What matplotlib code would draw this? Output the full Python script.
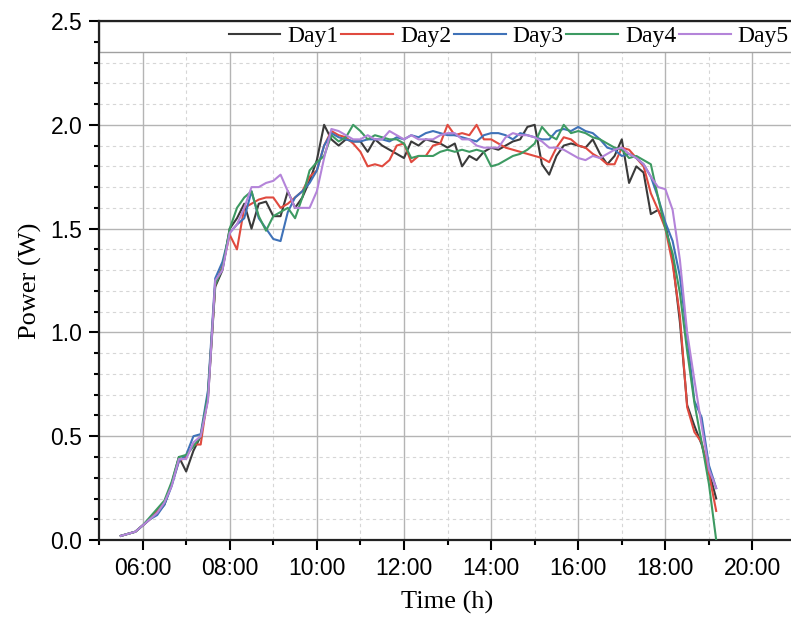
import numpy as np
import matplotlib.pyplot as plt
from matplotlib.ticker import MultipleLocator, FuncFormatter
from matplotlib.patches import Rectangle

# sampling every 10 min, 05:30 -> 19:10
hours = 5.5 + np.arange(83) / 6.0

day1 = [0.02, 0.03, 0.04, 0.07, 0.10, 0.13, 0.17, 0.27, 0.40, 0.33, 0.43, 0.50, 0.68, 1.22, 1.30,
        1.50, 1.55, 1.62, 1.50, 1.62, 1.63, 1.56, 1.56, 1.68, 1.60, 1.65, 1.73, 1.83, 2.00,
        1.93, 1.90, 1.93, 1.92, 1.92, 1.87, 1.93, 1.90, 1.88, 1.86, 1.84, 1.92, 1.90, 1.93, 1.92,
        1.91, 1.89, 1.91, 1.80, 1.85, 1.83, 1.87,
        1.89, 1.88, 1.90, 1.92, 1.93, 1.99, 2.00, 1.81, 1.76, 1.85, 1.90, 1.91, 1.90, 1.89, 1.93,
        1.86, 1.81, 1.85, 1.93, 1.72, 1.80, 1.77, 1.57, 1.59, 1.52, 1.35, 1.05, 0.65, 0.55, 0.46,
        0.33, 0.20]
day2 = [0.02, 0.03, 0.04, 0.07, 0.10, 0.14, 0.18, 0.27, 0.38, 0.40, 0.46, 0.46, 0.70, 1.23, 1.32,
        1.47, 1.40, 1.60, 1.62, 1.64, 1.65, 1.65, 1.60, 1.62, 1.65, 1.68, 1.75, 1.78, 1.90,
        1.97, 1.95, 1.94, 1.91, 1.87, 1.80, 1.81, 1.80, 1.83, 1.90, 1.91, 1.82, 1.85, 1.85, 1.90,
        1.91, 2.00, 1.95, 1.96, 1.95, 2.00, 1.93,
        1.93, 1.91, 1.89, 1.88, 1.87, 1.86, 1.85, 1.84, 1.82, 1.89, 1.94, 1.93, 1.90, 1.89, 1.86,
        1.84, 1.81, 1.81, 1.89, 1.88, 1.84, 1.80, 1.67, 1.59, 1.50, 1.33, 1.08, 0.64, 0.52, 0.47,
        0.32, 0.14]
day3 = [0.02, 0.03, 0.04, 0.07, 0.10, 0.12, 0.17, 0.26, 0.38, 0.41, 0.50, 0.51, 0.72, 1.26, 1.34,
        1.48, 1.52, 1.55, 1.68, 1.55, 1.50, 1.45, 1.44, 1.58, 1.65, 1.68, 1.72, 1.78, 1.90,
        1.96, 1.94, 1.93, 1.92, 1.92, 1.93, 1.93, 1.93, 1.92, 1.94, 1.93, 1.95, 1.94, 1.96, 1.97,
        1.96, 1.95, 1.95, 1.94, 1.93, 1.92, 1.95,
        1.96, 1.96, 1.95, 1.93, 1.96, 1.95, 1.94, 1.93, 1.93, 1.97, 1.98, 1.97, 1.99, 1.97, 1.96,
        1.93, 1.89, 1.88, 1.85, 1.86, 1.84, 1.81, 1.75, 1.65, 1.53, 1.44, 1.27, 0.98, 0.67, 0.59,
        0.36, 0.25]
day4 = [0.02, 0.03, 0.04, 0.07, 0.11, 0.15, 0.19, 0.28, 0.40, 0.41, 0.45, 0.50, 0.70, 1.23, 1.31,
        1.50, 1.60, 1.65, 1.68, 1.56, 1.49, 1.56, 1.58, 1.60, 1.55, 1.65, 1.78, 1.82, 1.85,
        1.95, 1.92, 1.94, 2.00, 1.97, 1.93, 1.95, 1.94, 1.93, 1.93, 1.91, 1.84, 1.85, 1.85, 1.85,
        1.87, 1.88, 1.87, 1.88, 1.87, 1.88, 1.87,
        1.80, 1.81, 1.83, 1.85, 1.86, 1.88, 1.91, 1.99, 1.95, 1.93, 2.00, 1.96, 1.97, 1.96, 1.94,
        1.93, 1.91, 1.89, 1.88, 1.84, 1.85, 1.83, 1.81, 1.65, 1.50, 1.38, 1.19, 0.91, 0.66, 0.47,
        0.27, 0.00]
day5 = [0.02, 0.03, 0.04, 0.07, 0.10, 0.13, 0.18, 0.26, 0.39, 0.39, 0.47, 0.50, 0.67, 1.25, 1.30,
        1.48, 1.52, 1.60, 1.70, 1.70, 1.72, 1.73, 1.76, 1.68, 1.60, 1.60, 1.60, 1.68, 1.84,
        1.98, 1.97, 1.95, 1.93, 1.93, 1.95, 1.93, 1.93, 1.97, 1.95, 1.93, 1.95, 1.93, 1.93, 1.93,
        1.95, 1.96, 1.96, 1.93, 1.93, 1.90, 1.89,
        1.89, 1.89, 1.94, 1.96, 1.95, 1.95, 1.94, 1.92, 1.89, 1.89, 1.88, 1.86, 1.84, 1.83, 1.85,
        1.84, 1.86, 1.88, 1.89, 1.86, 1.84, 1.81, 1.75, 1.70, 1.69, 1.59, 1.35, 1.00, 0.77, 0.55,
        0.34, 0.25]

names = ["Day1", "Day2", "Day3", "Day4", "Day5"]
colors = ["#3a3a3a", "#e04a3f", "#3f72b8", "#3d9a62", "#b484d9"]

fig = plt.figure(figsize=(7.91, 6.22), dpi=100)
ax = fig.add_axes([0.1252, 0.1318, 0.8812, 0.8344])

for y, name, c in zip([day1, day2, day3, day4, day5], names, colors):
    ax.plot(hours, y, color=c, lw=1.5, label=name, zorder=3)

ax.set_xlim(5, 21)
ax.set_ylim(0, 2.5)
ax.xaxis.set_major_locator(MultipleLocator(2))
ax.xaxis.set_minor_locator(MultipleLocator(1))
ax.yaxis.set_major_locator(MultipleLocator(0.5))
ax.yaxis.set_minor_locator(MultipleLocator(0.1))
ax.xaxis.set_major_formatter(FuncFormatter(lambda v, p: "%02d:00" % int(round(v))))
ax.yaxis.set_major_formatter(FuncFormatter(lambda v, p: "%.1f" % v))

ax.set_axisbelow(True)
ax.grid(which="major", color="#b4b4b4", lw=1.0)
ax.grid(which="minor", color="#d6d6d6", lw=0.8, ls=(0, (3, 3)))

ax.tick_params(which="major", direction="out", length=7, width=1.5, labelsize=16.5, pad=5)
ax.tick_params(which="minor", direction="out", length=3.5, width=1.5)
ax.tick_params(top=False, right=False)
for lab in ax.get_xticklabels() + ax.get_yticklabels():
    lab.set_family("Liberation Sans")
for s in ["top", "left", "bottom"]:
    ax.spines[s].set_linewidth(1.6)
    ax.spines[s].set_color("#222222")

# legend strip at the top of the plot
ax.add_patch(Rectangle((0, 0.9403), 1, 0.0597, transform=ax.transAxes,
                       facecolor="white", edgecolor="#a0a0a0", lw=1.0, zorder=2))
ax.legend(loc="center right", bbox_to_anchor=(1.0, 0.9702), ncol=5, frameon=False,
          handlelength=2.2, handletextpad=0.3, columnspacing=0.1,
          borderaxespad=0, borderpad=0.3,
          prop={"family": "Liberation Serif", "size": 17})

ax.set_xlabel("Time (h)", family="Liberation Serif", fontsize=19, labelpad=8)
ax.set_ylabel("Power (W)", family="Liberation Serif", fontsize=19, labelpad=6)

fig.savefig("out.png", dpi=100)
